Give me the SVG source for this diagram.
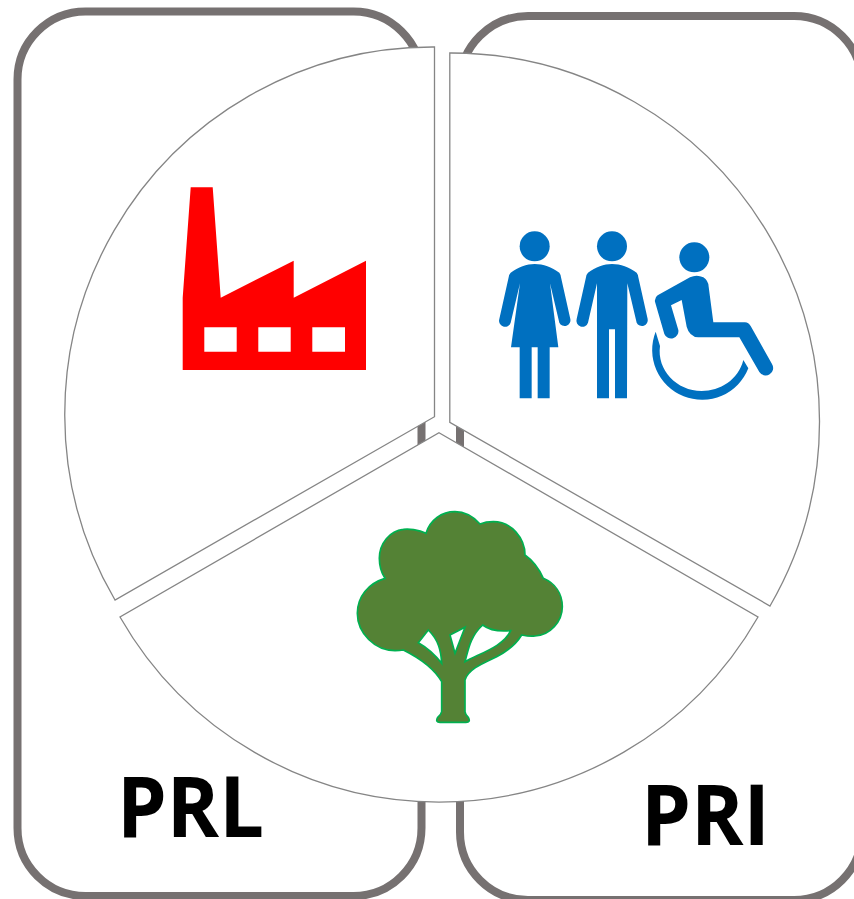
<svg xmlns="http://www.w3.org/2000/svg" width="854" height="899" viewBox="0 0 854 899">
<style>
.panel{fill:#fff;stroke:#767171;stroke-width:8}
.sector{fill:#fff;stroke:#858585;stroke-width:1.3}
.label{font-family:"Open Sans","Liberation Sans",sans-serif;font-weight:700;font-size:84px;fill:#000}
.blue{fill:#0070c0}
</style>
<rect width="854" height="899" fill="#fff"/>
<g id="panel-prl"><rect class="panel" x="17.500" y="11.500" width="404" height="884.500" rx="68" ry="68"/></g>
<g id="panel-pri"><rect class="panel" x="460" y="16" width="402" height="884" rx="68" ry="68"/></g>
<g id="sector-left"><path class="sector" d="M434.500 416.700V47A367.500 367.500 0 0 0 115 600Z"/></g>
<g id="sector-right"><path class="sector" d="M449.800 422.300V53A368.500 368.500 0 0 1 770 606Z"/></g>
<g id="sector-bottom"><path class="sector" d="M439 432.700L758 617A367.500 367.500 0 0 1 120 617Z"/></g>
<g id="factory">
<path fill="#f00" fill-rule="evenodd" d="M190.700 187.300H212.700L220.700 297.700L293.700 260.700V297.700L366 260.700V370H182.700V297.700ZM204.300 327.300V351.700H236.700V327.300ZM258.300 327.300V351.700H290.700V327.300ZM312.300 327.300V351.700H345V327.300Z"/>
</g>
<g id="people" class="blue" transform="translate(480 220) scale(.33333)">
<circle cx="164" cy="79" r="45"/>
<path d="M92 158C115 142 140 132 164 132C190 132 215 142 238 158Q242 163 243 172L271 297A17.500 17.500 0 0 1 238 308L210 190L235 382H209V535H173V382H155V535H119V382H93L120 190L92 308A17.500 17.500 0 0 1 58 297L86 172Q87 163 92 158Z"/>
<circle cx="396" cy="79" r="45"/>
<path d="M324 158C347 142 372 132 396 132C422 132 447 142 470 158Q474 163 475 172L503 297A17.500 17.500 0 0 1 470 308L442 190L441 535H405V328H387V535H351V190L324 308A17.500 17.500 0 0 1 290 297L318 172Q319 163 324 158Z"/>
<circle cx="643" cy="112" r="45"/>
<path d="M533 226L630 172Q650 162 670 172Q685 182 686 200L700 307H795Q806 308 812 318L876 432A22 22 0 0 1 838 456L778 352H655Q628 350 620 320L605 240L573 256L595 330A22 22 0 0 1 553 342L525 245Q523 233 533 226Z"/>
<path d="M527 335A148 148 0 0 0 805 445L790 420C775 480 720 513 665 513C590 513 530 450 540 378Z"/>
</g>
<g id="tree" transform="translate(340 500) scale(.33333)">
<path fill="#548235" stroke="#00b050" stroke-width="5" fill-rule="evenodd" d="M135 235C85 250 52 290 52 340C52 400 105 452 165 452Q180 452 190 450C240 475 285 510 305 545V635Q303 645 293 652Q285 667 300 667H378Q393 667 385 652Q376 645 375 635V540C385 505 440 485 470 470C505 452 530 430 545 405C560 408 570 410 585 408C630 405 667 365 667 320C667 280 645 250 610 235Q590 190 555 165C555 115 515 65 460 65C445 65 430 68 420 72C400 50 375 35 345 35C305 35 270 60 258 100C235 88 205 86 190 88C150 92 118 130 118 175C118 200 125 220 135 235ZM265 390L235 428C265 445 290 470 305 490C303 450 295 420 265 390ZM330 405L345 460L375 382ZM428 375C390 410 385 450 375 485C420 460 490 440 512 392C480 395 450 392 428 375Z"/>
</g>
<g id="label-prl"><text class="label" x="117" y="837" textLength="147" lengthAdjust="spacingAndGlyphs">PRL</text></g>
<g id="label-pri"><text class="label" x="641" y="845" textLength="129" lengthAdjust="spacingAndGlyphs">PRI</text></g>
</svg>
